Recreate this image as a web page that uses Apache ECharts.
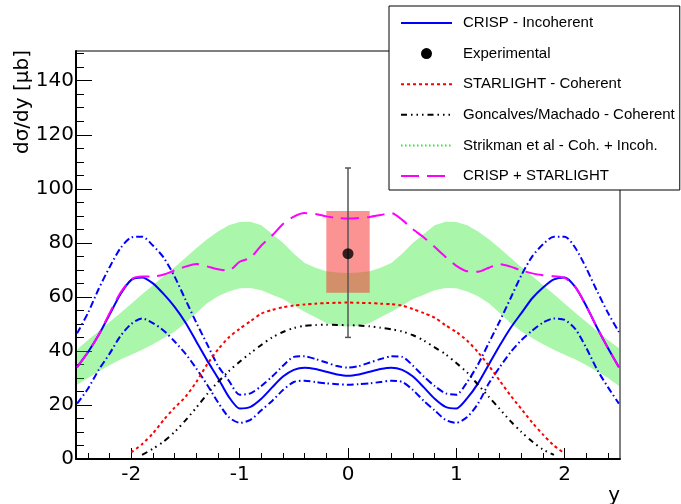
<!DOCTYPE html>
<html>
<head>
<meta charset="utf-8">
<script src="https://cdn.jsdelivr.net/npm/echarts@6/dist/echarts.min.js"></script>
<style>html,body{margin:0;padding:0;background:#fff}#c{width:681px;height:504px}</style>
</head>
<body>
<div id="c"></div>
<script>
// rapidity grid
const yGrid = [-2.5,-2.4,-2.3,-2.2,-2.1,-2.0,-1.9,-1.8,-1.7,-1.6,-1.5,-1.4,-1.3,-1.2,-1.1,-1.0,-0.9,-0.8,-0.7,-0.6,-0.5,-0.4,-0.3,-0.2,-0.1,0,
  0.1,0.2,0.3,0.4,0.5,0.6,0.7,0.8,0.9,1.0,1.1,1.2,1.3,1.4,1.5,1.6,1.7,1.8,1.9,2.0,2.1,2.2,2.3,2.4,2.5];

// CRISP - Incoherent (central, upper, lower)
const crispInc = [34,39.5,46,53.5,61,66.3,67.2,65,61,56.3,50.5,43.5,36.5,30,23,18.7,19.3,22.3,26.5,30.5,33,33.8,33.3,32.3,31.3,30.8,
  31.3,32.3,33.3,33.8,33,30.5,26.5,22.3,19.3,18.7,22.5,28,35,42,48.5,54,59.5,63.5,66.5,67.2,63.5,56.5,48.5,41,34];
const crispUp = [46.5,54,63,71,78,82,82.3,79,74.5,67.5,59,50.5,42.5,34.5,29,23.8,24.3,27,30.5,34.5,37.8,38,37,35.7,34.4,33.8,
  34.4,35.7,37,38,37.8,34.5,30.5,27,24.3,23.8,28.5,35,43,51,59.5,68,75,79.5,82.3,82.3,78,70.5,62,54,47];
const crispLow = [20.5,26,33,39,45.5,50,52,50.3,47.5,43.5,39,33.5,27.5,21,15.5,13.4,14.5,18,21.5,25.5,28.5,29,28.5,28,27.7,27.5,
  27.7,28,28.5,29,28.5,25.5,21.5,18,14.5,13.4,15.5,20.5,28,34,39.5,44,47.5,50.5,52,51.5,48,41,33,26.5,20.5];

// STARLIGHT - Coherent
const starlight = [null,null,null,null,null,2.5,5.5,9.5,14.5,19,23,28.5,35,40.5,45,48.2,51,53.8,55.2,56.2,56.8,57.2,57.5,57.7,57.8,57.9,
  57.8,57.7,57.5,57.3,56.8,55.5,54,52.3,49.5,47,43.8,39.5,34.5,29,23.5,18.5,13.5,9,5,2,null,null,null,null,null];

// Goncalves/Machado - Coherent
const goncalves = [null,null,null,null,null,null,1.5,3.8,6.5,10,14.3,19,24,28.5,32.5,36,39.2,42.2,45,47,48.5,49.3,49.6,49.7,49.6,49.5,
  49.4,49.1,48.6,48,47.2,45.8,43.8,41.3,38.8,35.5,32,27.5,23,18.5,14,10,6.5,3.5,1.5,null,null,null,null,null,null];

// Strikman et al - band limits
const strikUp = [40.5,44,47.3,50.7,54,57.5,61,64.3,67.7,71,74.5,78,81.3,84.2,86.5,87.7,87.8,86.5,83.3,80,76,72.5,70.8,69.5,69,68.8,
  69,69.5,70.8,72.5,76,80,83.3,86.5,87.8,87.7,86.5,84.2,81.3,78,74.5,71,67.7,64.3,61,57.5,54,50.7,47.3,44,41];
const strikLow = [27.5,30,32.5,34.7,36.8,38.6,40.4,42.5,44.8,47.2,50.3,54,57.6,60.2,62,63.2,63.3,62.5,60.8,59.2,56.8,54.5,52.5,50.3,49.3,49,
  49.3,50.3,52.5,54.5,56.8,59.2,60.8,62.5,63.3,63.2,62,60.2,57.6,54,50.3,47.2,44.8,42.5,40.4,38.6,36.8,34.7,32.5,30,27];

// CRISP + STARLIGHT
const crispStar = [34,39.5,46,54,61.5,66.5,67.5,67.5,68.3,69.8,71.2,72.2,71.3,70.2,69.8,73,74.5,79,82.7,87,89.7,91,90.7,89.8,89.2,89,
  89.2,89.6,90.3,91,88.5,85,82,78.5,74.8,71.5,69.5,69.3,70.8,72.1,71.2,69.8,68.7,68,67.6,67,63.5,56.5,48.5,41,34];

// Experimental point, error bar and box
const expX = [0];
const expY = [76];
const expErrLow = [45];
const expErrHigh = [107.7];
const expBox = [[-0.2, 0.2, 61.5, 91.8]];

// ticks
const xMajor = [-2,-1,0,1,2];
const xMinor = [-2.4,-2.2,-1.8,-1.6,-1.4,-1.2,-0.8,-0.6,-0.4,-0.2,0.2,0.4,0.6,0.8,1.2,1.4,1.6,1.8,2.2,2.4];
const yMajor = [0,20,40,60,80,100,120,140];
const yMinor = [5,10,15,25,30,35,45,50,55,65,70,75,85,90,95,105,110,115,125,130,135,145,150];

const pair = arr => yGrid.map((x, i) => [x, arr[i]]);

const chart = echarts.init(document.getElementById('c'), null, {renderer: 'canvas'});

const tickStyle = {color: '#000', width: 1};
const lab = {fontFamily: 'DejaVu Sans', fontSize: 20, color: '#000'};

chart.setOption({
  animation: false,
  backgroundColor: '#fff',
  grid: {left: 76, right: 61, top: 51, bottom: 45, show: true, borderColor: '#000', borderWidth: 1,
         backgroundColor: 'transparent', containLabel: false, outerBoundsMode: 'none'},
  xAxis: [
    {type: 'value', min: -2.51, max: 2.51, position: 'bottom',
     axisLine: {show: true, onZero: false, lineStyle: {color: '#000', width: 2}},
     axisTick: {show: true, inside: true, length: 11, customValues: xMajor, lineStyle: tickStyle},
     axisLabel: Object.assign({show: true, margin: 6, customValues: xMajor}, lab),
     splitLine: {show: false}},
    {type: 'value', min: -2.51, max: 2.51, position: 'bottom', gridIndex: 0,
     axisLine: {show: false, onZero: false},
     axisTick: {show: true, inside: true, length: 6, customValues: xMinor, lineStyle: tickStyle},
     axisLabel: {show: false}, splitLine: {show: false}}
  ],
  yAxis: [
    {type: 'value', min: 0, max: 151, position: 'left',
     axisLine: {show: true, onZero: false, lineStyle: {color: '#000', width: 2}},
     axisTick: {show: true, inside: true, length: 16, customValues: yMajor, lineStyle: tickStyle},
     axisLabel: Object.assign({show: true, margin: 2, customValues: yMajor}, lab),
     splitLine: {show: false}},
    {type: 'value', min: 0, max: 151, position: 'left', gridIndex: 0,
     axisLine: {show: false, onZero: false},
     axisTick: {show: true, inside: true, length: 8, customValues: yMinor, lineStyle: tickStyle},
     axisLabel: {show: false}, splitLine: {show: false}}
  ],
  legend: {
    orient: 'vertical', left: 389, top: 6, itemWidth: 51, itemHeight: 11, itemGap: 15.6,
    padding: [9.5, 5, 6.5, 11], backgroundColor: '#fff', borderColor: '#000', borderWidth: 1, borderRadius: 0,
    selectedMode: false, z: 10,
    textStyle: {fontFamily: 'Liberation Sans', fontSize: 15, color: '#000', lineHeight: 14, padding: [0, 0, 0, 6]},
    data: [
      {name: 'CRISP - Incoherent', itemStyle: {opacity: 0}},
      {name: 'Experimental', icon: 'circle', itemStyle: {color: '#000', opacity: 1}},
      {name: 'STARLIGHT - Coherent', itemStyle: {opacity: 0}},
      {name: 'Goncalves/Machado - Coherent', itemStyle: {opacity: 0}},
      {name: 'Strikman et al - Coh. + Incoh.', itemStyle: {opacity: 0},
       lineStyle: {color: '#22ee22', type: [1.5, 2.5], width: 2, opacity: 1}},
      {name: 'CRISP + STARLIGHT', itemStyle: {opacity: 0}}
    ]
  },
  graphic: [
    {type: 'text', x: 22.5, y: 50, rotation: Math.PI / 2, z: 100,
     style: {text: 'dσ/dy [μb]', font: '20px "DejaVu Sans"', fill: '#000', align: 'right', verticalAlign: 'middle'}},
    {type: 'text', x: 620, y: 496, z: 100,
     style: {text: 'y', font: '20px "DejaVu Sans"', fill: '#000', align: 'right', verticalAlign: 'middle'}}
  ],
  series: [
    // Strikman band drawn as a polygon between the two limits
    {type: 'custom', name: 'strikBand', data: [[0, 60]], encode: {x: 0, y: 1}, z: 1, silent: true,
     renderItem: function (params, api) {
       const pts = [];
       for (let i = 0; i < yGrid.length; i++) pts.push(api.coord([yGrid[i], strikUp[i]]));
       for (let i = yGrid.length - 1; i >= 0; i--) pts.push(api.coord([yGrid[i], strikLow[i]]));
       return {type: 'polygon', shape: {points: pts}, style: {fill: 'rgba(20,230,20,0.36)'}};
     }},
    // legend carrier for the Strikman band (draws nothing itself)
    {type: 'line', name: 'Strikman et al - Coh. + Incoh.', data: [], symbol: 'none',
     lineStyle: {color: '#22ee22', width: 2, type: [1.5, 2.5]}, itemStyle: {color: '#22ee22'}},
    {type: 'custom', name: 'expBox', data: expBox, encode: {x: [0, 1], y: [2, 3]}, z: 1, silent: true,
     renderItem: function (params, api) {
       const p0 = api.coord([api.value(0), api.value(3)]);
       const p1 = api.coord([api.value(1), api.value(2)]);
       return {type: 'rect', shape: {x: p0[0], y: p0[1], width: p1[0] - p0[0], height: p1[1] - p0[1]},
               style: {fill: 'rgba(250,40,40,0.5)'}};
     }},
    {type: 'line', name: 'CRISP - Incoherent', data: pair(crispInc), symbol: 'none', smooth: 0.25, z: 3,
     lineStyle: {color: '#0000ff', width: 2}, itemStyle: {color: '#0000ff'}},
    {type: 'line', name: 'crispUp', data: pair(crispUp), symbol: 'none', smooth: 0.25, z: 3,
     lineStyle: {color: '#0000ff', width: 2, type: [7, 3, 1.5, 3]}},
    {type: 'line', name: 'crispLow', data: pair(crispLow), symbol: 'none', smooth: 0.25, z: 3,
     lineStyle: {color: '#0000ff', width: 2, type: [7, 3, 1.5, 3]}},
    {type: 'line', name: 'STARLIGHT - Coherent', data: pair(starlight), symbol: 'none', smooth: 0.25, z: 3,
     lineStyle: {color: '#ff0000', width: 2, type: [3, 3]}, itemStyle: {color: '#ff0000'}},
    {type: 'line', name: 'Goncalves/Machado - Coherent', data: pair(goncalves), symbol: 'none', smooth: 0.25, z: 3,
     lineStyle: {color: '#000', width: 2, type: [6, 4, 1.5, 4, 1.5, 4, 1.5, 4]}, itemStyle: {color: '#000'}},
    {type: 'line', name: 'CRISP + STARLIGHT', data: pair(crispStar), symbol: 'none', smooth: 0.25, z: 3,
     lineStyle: {color: '#ff00ff', width: 2, type: [18, 8]}, itemStyle: {color: '#ff00ff'}},
    {type: 'custom', name: 'expErr', data: expX.map((x, i) => [x, expErrLow[i], expErrHigh[i]]),
     encode: {x: 0, y: [1, 2]}, z: 4, silent: true,
     renderItem: function (params, api) {
       const x = api.value(0);
       const a = api.coord([x, api.value(1)]);
       const b = api.coord([x, api.value(2)]);
       const st = {stroke: '#555', lineWidth: 1.5};
       return {type: 'group', children: [
         {type: 'line', shape: {x1: a[0], y1: a[1], x2: b[0], y2: b[1]}, style: st},
         {type: 'line', shape: {x1: a[0] - 3, y1: a[1], x2: a[0] + 3, y2: a[1]}, style: st},
         {type: 'line', shape: {x1: b[0] - 3, y1: b[1], x2: b[0] + 3, y2: b[1]}, style: st}
       ]};
     }},
    {type: 'scatter', name: 'Experimental', data: expX.map((x, i) => [x, expY[i]]), symbol: 'circle', symbolSize: 11,
     itemStyle: {color: '#000'}, z: 5}
  ]
});
</script>
</body>
</html>
